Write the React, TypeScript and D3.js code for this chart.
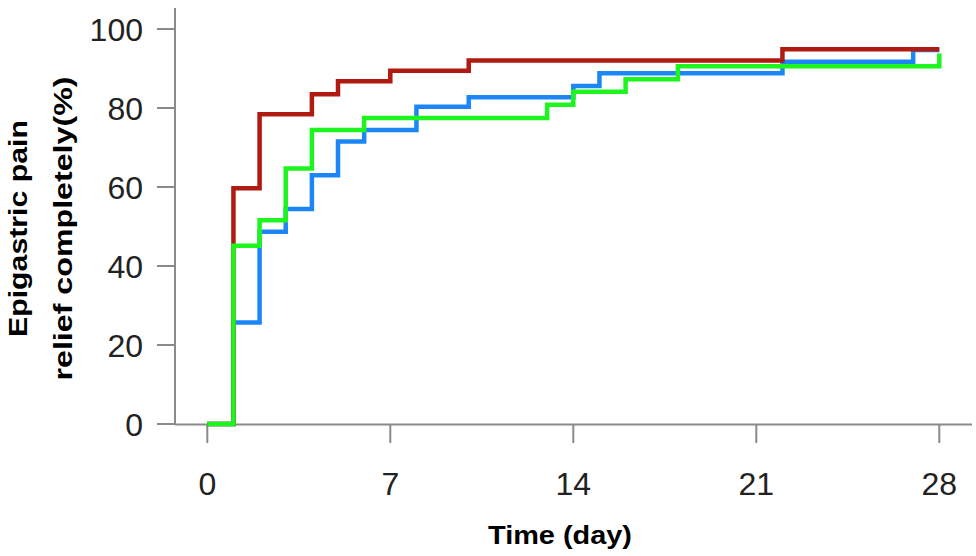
import { useMemo } from 'react';
import * as d3 from 'd3';

// Kaplan-Meier style cumulative relief curves (step after each day)
const redDays = [0, 1, 2, 4, 5, 7, 10, 22, 28];
const redPct = [0, 59.7, 78.4, 83.5, 86.8, 89.4, 92.0, 94.9, 94.9];

const blueDays = [0, 1, 2, 3, 4, 5, 6, 8, 10, 14, 15, 22, 27, 28];
const bluePct = [0, 25.7, 48.7, 54.4, 63.0, 71.5, 74.4, 80.3, 82.7, 85.6, 88.8, 91.7, 94.7, 94.7];

const greenDays = [0, 1, 2, 3, 4, 6, 13, 14, 16, 18, 28];
const greenPct = [0, 45.1, 51.6, 64.7, 74.4, 77.5, 80.8, 84.1, 87.3, 90.6, 93.8];

const xTicks = [0, 7, 14, 21, 28];
const yTicks = [0, 20, 40, 60, 80, 100];

const yTitleLines = ['Epigastric pain', 'relief completely(%)'];
const xTitle = 'Time (day)';

const W = 976;
const H = 556;
const axisColor = '#8a8a8a';

type Pt = { d: number; v: number };

export default function App() {
  const x = useMemo(() => d3.scaleLinear().domain([0, 28]).range([207.3, 939.3]), []);
  const y = useMemo(() => d3.scaleLinear().domain([0, 100]).range([424, 29]), []);

  const line = d3.line<Pt>()
    .x((p) => x(p.d))
    .y((p) => y(p.v))
    .curve(d3.curveStepAfter);

  const series = [
    { color: '#1c86f7', days: blueDays, pct: bluePct },
    { color: '#b01a10', days: redDays, pct: redPct },
    { color: '#1ef51e', days: greenDays, pct: greenPct },
  ];

  const axisLeft = 175;
  const axisBottom = 424.5;
  const midY = (y(0) + y(100)) / 2 + 2;

  return (
    <svg width={W} height={H} style={{ position: 'absolute', left: 0, top: 0, background: '#fff' }}>
      {/* axes */}
      <line x1={axisLeft} x2={axisLeft} y1={8} y2={axisBottom} stroke={axisColor} strokeWidth={2} />
      <line x1={axisLeft} x2={972} y1={axisBottom} y2={axisBottom} stroke={axisColor} strokeWidth={2} />
      {yTicks.map((t) => (
        <g key={'y' + t}>
          <line x1={157} x2={axisLeft} y1={y(t)} y2={y(t)} stroke={axisColor} strokeWidth={2} />
          <text x={143} y={y(t)} dy="0.36em" textAnchor="end" fontFamily="'Liberation Sans', Arial, sans-serif" fontSize={32} fill="#222">{t}</text>
        </g>
      ))}
      {xTicks.map((t) => (
        <g key={'x' + t}>
          <line x1={x(t)} x2={x(t)} y1={axisBottom} y2={443} stroke={axisColor} strokeWidth={2} />
          <text x={x(t)} y={495} textAnchor="middle" fontFamily="'Liberation Sans', Arial, sans-serif" fontSize={32} fill="#222">{t}</text>
        </g>
      ))}

      {/* curves */}
      {series.map((s, i) => (
        <path
          key={i}
          d={line(s.days.map((d, j) => ({ d, v: s.pct[j] }))) || ''}
          fill="none"
          stroke={s.color}
          strokeWidth={4.5}
        />
      ))}

      {/* titles */}
      <text x={560} y={544} textAnchor="middle" fontFamily="'Liberation Sans', Arial, sans-serif" fontWeight="bold" fontSize={26} textLength={144} lengthAdjust="spacingAndGlyphs">{xTitle}</text>
      {yTitleLines.map((l, i) => (
        <text
          key={l}
          transform={`translate(${27 + i * 45},${midY}) rotate(-90)`}
          textAnchor="middle"
          fontFamily="'Liberation Sans', Arial, sans-serif"
          fontWeight="bold"
          fontSize={26}
          textLength={i === 0 ? 217 : 304}
          lengthAdjust="spacingAndGlyphs"
        >{l}</text>
      ))}
    </svg>
  );
}
